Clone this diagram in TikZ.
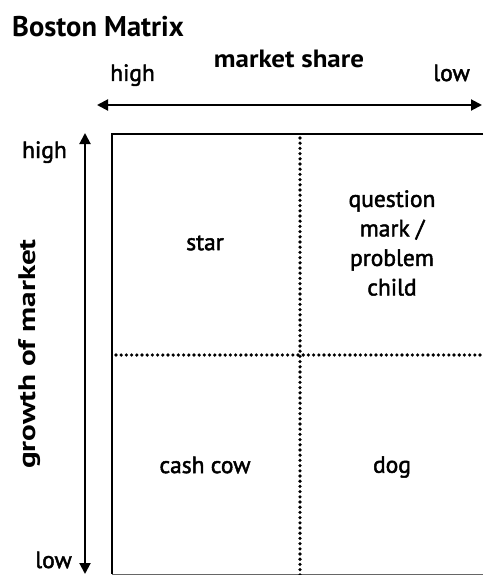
\documentclass[tikz,border=0pt]{standalone}
\usepackage{fontspec}
\setmainfont{PT Sans}
\usetikzlibrary{arrows.meta}

\begin{document}
\begin{tikzpicture}[x=1pt,y=-1pt,
  lbl/.style={font=\fontsize{23.5}{28}\selectfont\addfontfeature{FakeBold=2},inner sep=0pt},
  axis/.style={font=\fontsize{25}{28}\selectfont\bfseries\addfontfeature{FakeStretch=1.08},inner sep=0pt},
  cell/.style={font=\fontsize{23.5}{29.5}\selectfont\addfontfeature{FakeBold=2},align=center,inner sep=0pt},
  scale arrow/.style={{Triangle[length=11pt,width=11pt]}-{Triangle[length=11pt,width=11pt]},line width=2pt},
  frame/.style={line width=2.2pt},
  dots/.style={line width=3.6pt,line cap=round,dash pattern=on 0pt off 5.2pt}]
\useasboundingbox (0,0) rectangle (483,575);
\node[anchor=base west,inner sep=0pt,font=\fontsize{28.5}{32}\selectfont\bfseries] (title) at (12,37) {Boston Matrix};
% horizontal axis
\node[axis,anchor=base] (share) at (289,68) {market share};
\node[lbl,anchor=base west] (shareHigh) at (110,81) {high};
\node[lbl,anchor=base east] (shareLow) at (470,81) {low};
\coordinate (sL) at (97,105);
\coordinate (sR) at (482,105);
\draw[scale arrow] (sL) -- (sR);
% vertical axis
\node[axis,rotate=90,font=\fontsize{24}{28}\selectfont\bfseries\addfontfeature{FakeStretch=1.3}] (growth) at (30,354) {growth of market};
\node[lbl,anchor=base east] (growthHigh) at (67,158) {high};
\node[lbl,anchor=base east] (growthLow) at (72,568) {low};
\coordinate (gT) at (85,133);
\coordinate (gB) at (85,574);
\draw[scale arrow] (gB) -- (gT);
% matrix
\coordinate (tl) at (112,134);
\coordinate (tr) at (483,134);
\coordinate (bl) at (112,574);
\coordinate (br) at (483,574);
\draw[frame] (tr) -- (tl) -- (bl);
\draw[line width=1pt,black!60] (bl) -- (br);
\coordinate (vT) at (300,138);
\coordinate (vB) at (300,575);
\coordinate (hL) at (116,355);
\coordinate (hR) at (483,355);
\draw[dots] (vT) -- (vB);
\draw[dots] (hL) -- (hR);
\node[cell] (star) at (205,243) {star};
\node[cell] (question) at (392,243) {question\\mark /\\problem\\child};
\node[cell] (cashcow) at (205,465) {cash cow};
\node[cell] (dog) at (392,467) {dog};
\end{tikzpicture}
\end{document}
